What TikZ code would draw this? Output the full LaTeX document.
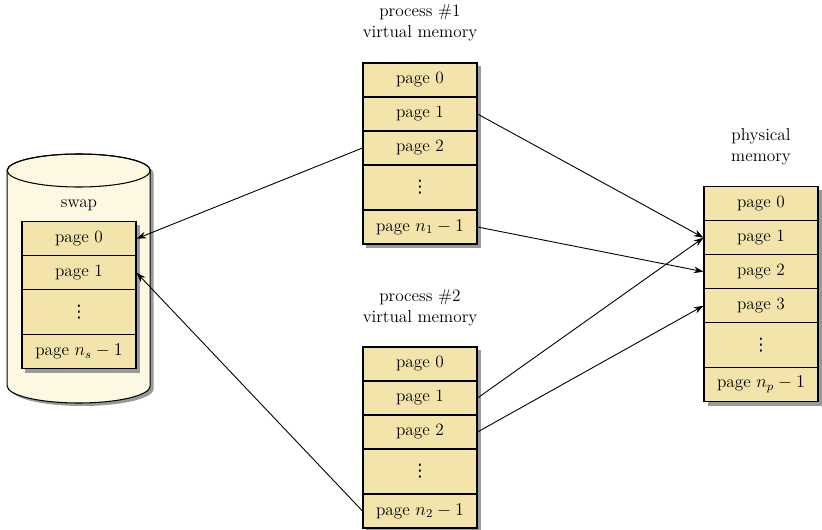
\documentclass[tikz,border=0pt]{standalone}
\usepackage{fontspec}
\newfontfamily\dotsfont{DejaVu Sans}
\usetikzlibrary{arrows.meta}
\definecolor{boxfill}{HTML}{F2E4AA}
\definecolor{cylfill}{HTML}{FCF8E1}
\definecolor{shadowc}{HTML}{9A9A9A}
\newcommand\vdotsglyph{{\dotsfont ⋮}}
\begin{document}
\begin{tikzpicture}[x=0.6667pt,y=-0.6667pt,
  txt/.style={font=\fontsize{11.5}{14}\selectfont},
  pg/.style={txt,draw,line width=0.7pt,fill=boxfill,inner sep=0pt,
     minimum width=76pt,minimum height=22.67pt},
  dotsrow/.style={pg,minimum height=30pt},
  lbl/.style={txt,align=center},
  shade/.style={fill=shadowc},
  conn/.style={line width=0.6pt,-{Stealth[length=6.5pt,width=4.5pt]}}]
\useasboundingbox (0,0) rectangle (822,530);

% ---------- swap cylinder ----------
\fill[shade] (10.7,173.5) -- (10.7,389) arc[start angle=180,end angle=360,x radius=47.67pt,y radius=11.33pt]
   -- (153.7,173.5) arc[start angle=0,end angle=180,x radius=47.67pt,y radius=11pt] -- cycle;
\draw[line width=0.7pt,fill=cylfill] (7.2,170.5) -- (7.2,386) arc[start angle=180,end angle=360,x radius=47.67pt,y radius=11.33pt]
   -- (150.2,170.5) arc[start angle=0,end angle=180,x radius=47.67pt,y radius=11pt] -- cycle;
\draw[line width=0.7pt] (78.7,170.5) ellipse[x radius=47.67pt,y radius=11pt];
\node[lbl] (swaplbl) at (79,205) {swap};

% swap stack
\fill[shade] (25,224.7) rectangle (140,372.7);
\node[pg] (s0) at (79,238.7) {page 0};
\node[pg] (s1) at (79,272.7) {page 1};
\node[dotsrow] (s2) at (79,312.2) {\vdotsglyph};
\node[pg] (s3) at (79,351.7) {page $n_s-1$};

% ---------- process 1 ----------
\node[lbl] (p1lbl) at (420,22.5) {process \#1\\virtual memory};
\fill[shade] (366,66) rectangle (481,248);
\node[pg] (a0) at (420,80) {page 0};
\node[pg] (a1) at (420,114) {page 1};
\node[pg] (a2) at (420,148) {page 2};
\node[dotsrow] (a3) at (420,187.5) {\vdotsglyph};
\node[pg] (a4) at (420,227) {page $n_1-1$};

% ---------- process 2 ----------
\node[lbl] (p2lbl) at (420,307.5) {process \#2\\virtual memory};
\fill[shade] (366,350) rectangle (481,532);
\node[pg] (b0) at (420,364) {page 0};
\node[pg] (b1) at (420,398) {page 1};
\node[pg] (b2) at (420,432) {page 2};
\node[dotsrow] (b3) at (420,471.5) {\vdotsglyph};
\node[pg] (b4) at (420,511) {page $n_2-1$};

% ---------- physical memory ----------
\node[lbl] (phlbl) at (761,146.5) {physical\\memory};
\fill[shade] (707.5,190) rectangle (822,406);
\node[pg] (c0) at (761,203.7) {page 0};
\node[pg] (c1) at (761,237.7) {page 1};
\node[pg] (c2) at (761,271.7) {page 2};
\node[pg] (c3) at (761,305.7) {page 3};
\node[dotsrow] (c4) at (761,345.2) {\vdotsglyph};
\node[pg] (c5) at (761,384.7) {page $n_p-1$};

% ---------- connectors ----------
\draw[conn] (a2.west) -- (s0.east);
\draw[conn] (b4.west) -- (s1.east);
\draw[conn] (a1.east) -- (c1.west);
\draw[conn] (a4.east) -- (c2.west);
\draw[conn] (b1.east) -- (c1.west);
\draw[conn] (b2.east) -- (c3.west);
\end{tikzpicture}
\end{document}
